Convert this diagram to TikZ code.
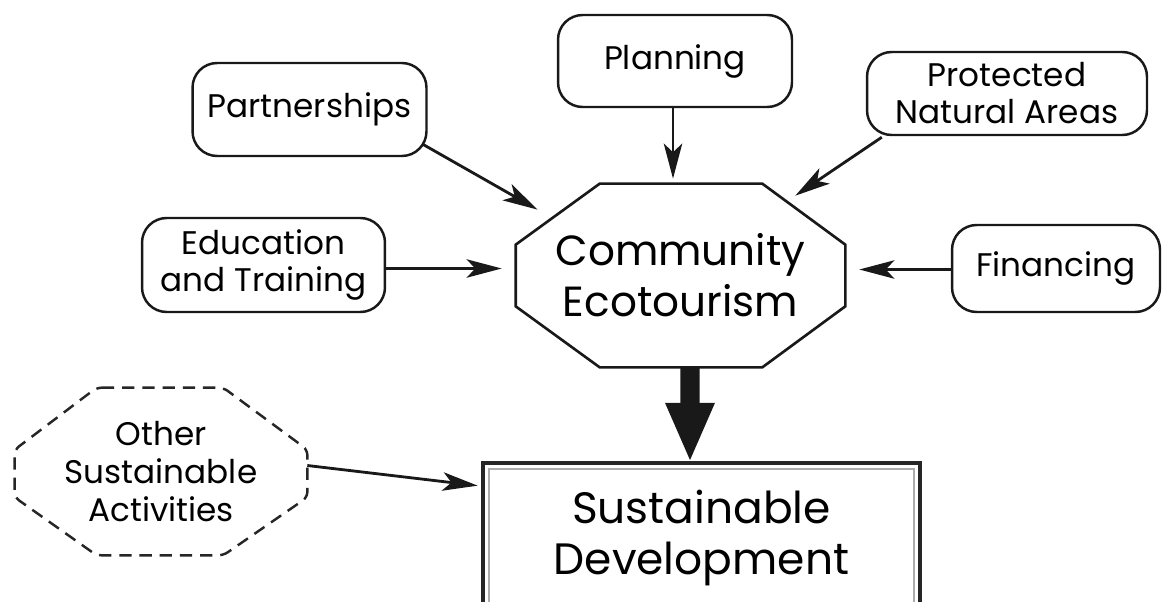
\documentclass[tikz,border=0pt]{standalone}
\usepackage{fontspec}
\setmainfont{Poppins}
\usetikzlibrary{arrows.meta,calc}
\begin{document}
\begin{tikzpicture}[x=0.02cm,y=-0.02cm,
  box/.style={draw=black!90, line width=1.4pt, rounded corners=14pt, align=center,
    font=\fontsize{18.6}{21}\selectfont, inner sep=0pt},
  arr/.style={-{Stealth[length=20pt,width=10.5pt,inset=5pt]}, line width=1.6pt, draw=black!90},
  big/.style={font=\fontsize{24}{29}\selectfont, align=center, inner sep=0pt},
  small/.style={font=\fontsize{18.6}{21.5}\selectfont, align=center, inner sep=0pt}]
\useasboundingbox (0,0) rectangle (1174,602);
\clip (0,0) rectangle (1174,602);

% input boxes
\node[box, minimum width=4.68cm, minimum height=1.86cm] (part) at (309.5,109.5) {Partnerships};
\node[box, minimum width=4.68cm, minimum height=1.84cm] (plan) at (675,61) {Planning};
\node[box, minimum width=5.6cm, minimum height=1.66cm] (prot) at (1007,93.5) {Protected\\Natural Areas};
\node[box, minimum width=4.86cm, minimum height=1.88cm] (edu) at (263.5,265) {Education\\and Training};
\node[box, minimum width=4.16cm, minimum height=1.74cm] (fin) at (1056,268.5) {Financing};

% community ecotourism octagon
\node[big, minimum width=6.58cm, minimum height=3.66cm] (ce) at (680.5,275.5) {Community\\Ecotourism};
\draw[line width=1.5pt, black!90]
  ($(ce.north west)+(84,0)$) -- ($(ce.north east)+(-83,0)$) --
  ($(ce.north east)+(0,61)$) -- ($(ce.south east)+(0,-61)$) --
  ($(ce.south east)+(-83,0)$) -- ($(ce.south west)+(84,0)$) --
  ($(ce.south west)+(0,-61)$) -- ($(ce.north west)+(0,61)$) -- cycle;

% sustainable development
\node[big, font=\fontsize{25}{28.5}\selectfont, minimum width=8.74cm, minimum height=3.0cm] (sd) at (701.5,538) {Sustainable\\Development};
\draw[line width=2.2pt, black!85] (sd.north west) rectangle (sd.south east);
\draw[line width=1.1pt, gray!65] ($(sd.north west)+(6,6)$) rectangle ($(sd.south east)+(-6,-6)$);

% other sustainable activities
\node[small, minimum width=5.84cm, minimum height=3.34cm] (oth) at (161,471.5) {Other\\Sustainable\\Activities};
\draw[line width=1.4pt, black!85, dash pattern=on 7pt off 4.5pt, rounded corners=3pt]
  ($(oth.north west)+(82,0)$) -- ($(oth.north east)+(-84,0)$) --
  ($(oth.north east)+(0,62)$) -- ($(oth.south east)+(0,-58)$) --
  ($(oth.south east)+(-84,0)$) -- ($(oth.south west)+(82,0)$) --
  ($(oth.south west)+(0,-58)$) -- ($(oth.north west)+(0,62)$) -- cycle;

% connector end points
\coordinate (parttip) at ($(ce.north west)+(22,26)$);
\coordinate (plantip) at ($(ce.north)+(-7.5,-5)$);
\coordinate (prottip) at ($(ce.north east)+(-50,12)$);
\coordinate (edutip) at ($(ce.west)+(-14,-7)$);
\coordinate (fintip) at ($(ce.east)+(14,-6)$);
\coordinate (othtip) at ($(sd.north west)+(-5,23)$);
\coordinate (bigstart) at ($(ce.south)+(9.5,0)$);
\coordinate (bigtip) at ($(sd.north)+(-11.5,0)$);

% connectors
\draw[arr] ($(part.south east)+(-5,-13)$) -- (parttip);
\draw[arr] (plantip |- plan.south) -- (plantip);
\draw[arr] ($(prot.south west)+(16,1)$) -- (prottip);
\draw[arr] (edutip -| edu.east) -- (edutip);
\draw[arr] (fintip -| fin.west) -- (fintip);
\draw[arr] ($(oth.east)+(0,-6)$) -- (othtip);
\draw[line width=11pt, black!90, -{Triangle[length=34pt,width=25.5pt]}] (bigstart) -- (bigtip);
\end{tikzpicture}
\end{document}
